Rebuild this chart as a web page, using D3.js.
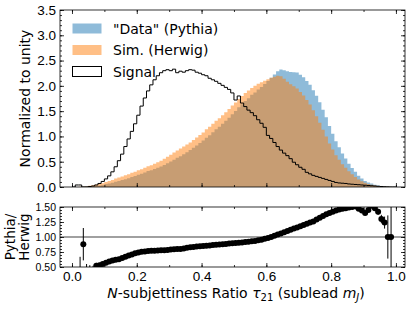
<!DOCTYPE html>
<html>
<head>
<meta charset="utf-8">
<script src="https://cdn.jsdelivr.net/npm/d3@7"></script>
<style>
  body { margin: 0; background: #fff; }
  svg { font-family: "DejaVu Sans", sans-serif; }
</style>
</head>
<body>
<div id="chart"></div>
<script>
// 100 bins of width 0.01 between 0 and 1
const binEdges = d3.range(101).map((i) => i / 100);

// "Data" (Pythia), normalized to unity
const pythia = [
  0, 0, 0.001, 0.005, 0.005, 0.011, 0.016, 0.025, 0.032, 0.041,
  0.057, 0.071, 0.085, 0.105, 0.12, 0.137, 0.154, 0.173, 0.199, 0.219,
  0.244, 0.264, 0.289, 0.314, 0.331, 0.354, 0.38, 0.406, 0.437, 0.471,
  0.506, 0.541, 0.576, 0.608, 0.648, 0.689, 0.73, 0.777, 0.823, 0.87,
  0.918, 0.975, 1.023, 1.081, 1.14, 1.19, 1.25, 1.31, 1.371, 1.441,
  1.503, 1.575, 1.638, 1.702, 1.757, 1.823, 1.87, 1.928, 1.977, 2.037,
  2.098, 2.16, 2.224, 2.288, 2.321, 2.311, 2.288, 2.274, 2.269, 2.262,
  2.218, 2.172, 2.098, 2.021, 1.915, 1.806, 1.676, 1.526, 1.38, 1.204,
  1.051, 0.907, 0.788, 0.662, 0.562, 0.462, 0.375, 0.302, 0.221, 0.166,
  0.119, 0.087, 0.068, 0.044, 0.028, 0.016, 0.007, 0.003, 0.001, 0,
];

// Sim. (Herwig)
const herwig = [
  0, 0, 0.003, 0.006, 0.012, 0.025, 0.035, 0.048, 0.06, 0.075,
  0.1, 0.12, 0.14, 0.17, 0.19, 0.21, 0.23, 0.25, 0.28, 0.3,
  0.33, 0.35, 0.38, 0.41, 0.43, 0.46, 0.49, 0.52, 0.56, 0.6,
  0.64, 0.68, 0.72, 0.76, 0.8, 0.84, 0.88, 0.93, 0.98, 1.03,
  1.08, 1.14, 1.19, 1.25, 1.31, 1.36, 1.42, 1.48, 1.54, 1.61,
  1.67, 1.74, 1.8, 1.86, 1.91, 1.96, 2.0, 2.04, 2.07, 2.1,
  2.13, 2.16, 2.18, 2.2, 2.19, 2.14, 2.08, 2.03, 1.99, 1.95,
  1.88, 1.81, 1.72, 1.63, 1.52, 1.4, 1.27, 1.13, 1.0, 0.86,
  0.74, 0.63, 0.54, 0.45, 0.38, 0.31, 0.25, 0.2, 0.15, 0.115,
  0.085, 0.06, 0.045, 0.03, 0.02, 0.012, 0.006, 0.003, 0.001, 0,
];

// Signal
const signal = [
  0, 0.04, 0.04, 0, 0, 0.01, 0.02, 0.04, 0.07, 0.11,
  0.16, 0.22, 0.3, 0.4, 0.52, 0.65, 0.8, 0.95, 1.1, 1.25,
  1.42, 1.6, 1.76, 1.9, 2.02, 2.12, 2.2, 2.26, 2.3, 2.32,
  2.3, 2.33, 2.26, 2.29, 2.27, 2.3, 2.32, 2.31, 2.27, 2.25,
  2.22, 2.2, 2.15, 2.12, 2.09, 2.05, 2.01, 1.97, 1.93, 1.86,
  1.72, 1.8, 1.66, 1.59, 1.52, 1.47, 1.41, 1.33, 1.26, 1.18,
  1.02, 0.96, 0.88, 0.8, 0.73, 0.67, 0.62, 0.56, 0.49, 0.44,
  0.39, 0.35, 0.29, 0.26, 0.23, 0.21, 0.19, 0.17, 0.15, 0.13,
  0.11, 0.09, 0.08, 0.075, 0.07, 0.06, 0.055, 0.05, 0.045, 0.04,
  0.035, 0.03, 0.025, 0.02, 0.015, 0.01, 0.005, 0.002, 0, 0,
];

// Pythia / Herwig ratio and its uncertainty (null = no point)
const ratio = [
  null, null, 0.3, 0.88, 0.4, 0.45, 0.45, 0.52, 0.53, 0.55,
  0.57, 0.59, 0.61, 0.62, 0.63, 0.65, 0.67, 0.69, 0.71, 0.73,
  0.74, 0.755, 0.76, 0.765, 0.77, 0.77, 0.775, 0.78, 0.78, 0.785,
  0.79, 0.795, 0.8, 0.8, 0.81, 0.82, 0.83, 0.835, 0.84, 0.845,
  0.85, 0.855, 0.86, 0.865, 0.87, 0.875, 0.88, 0.885, 0.89, 0.895,
  0.9, 0.905, 0.91, 0.915, 0.92, 0.93, 0.935, 0.945, 0.955, 0.97,
  0.985, 1.0, 1.02, 1.04, 1.06, 1.08, 1.1, 1.12, 1.14, 1.16,
  1.18, 1.2, 1.22, 1.24, 1.26, 1.29, 1.32, 1.35, 1.38, 1.4,
  1.42, 1.44, 1.46, 1.47, 1.48, 1.49, 1.5, 1.51, 1.47, 1.44,
  1.4, 1.45, 1.52, 1.48, 1.42, 1.3, 1.24, 1.0, 1.0, null,
];
const ratioErr = [
  0, 0, 0.37, 0.27, 0.15, 0.08, 0.07, 0.05, 0.04, 0.03,
  0.03, 0.02, 0.02, 0.02, 0.02, 0.01, 0.01, 0.01, 0.01, 0.01,
  0.01, 0.01, 0.01, 0.01, 0.01, 0.01, 0.01, 0.01, 0.01, 0.01,
  0.01, 0.01, 0.01, 0.01, 0.01, 0.01, 0.01, 0.01, 0.01, 0.01,
  0.01, 0.01, 0.01, 0.01, 0.01, 0.01, 0.01, 0.01, 0.01, 0.01,
  0.01, 0.01, 0.01, 0.01, 0.01, 0.01, 0.01, 0.01, 0.01, 0.01,
  0.01, 0.01, 0.01, 0.01, 0.01, 0.01, 0.01, 0.01, 0.01, 0.01,
  0.01, 0.01, 0.01, 0.01, 0.01, 0.01, 0.01, 0.01, 0.01, 0.01,
  0.01, 0.01, 0.01, 0.01, 0.01, 0.01, 0.02, 0.02, 0.02, 0.02,
  0.03, 0.03, 0.04, 0.04, 0.05, 0.07, 0.1, 0.36, 0.7, 0,
];

const xTicks = [0, 0.2, 0.4, 0.6, 0.8, 1.0];
const yTicksTop = [0, 0.5, 1.0, 1.5, 2.0, 2.5, 3.0, 3.5];
const yTicksRatio = [0.5, 0.75, 1.0, 1.25, 1.5];

const legendItems = [
  {label: '"Data" (Pythia)', fill: '#1f77b4', opacity: 0.5, stroke: 'none'},
  {label: 'Sim. (Herwig)', fill: '#ff7f0e', opacity: 0.5, stroke: 'none'},
  {label: 'Signal', fill: 'none', opacity: 1, stroke: '#000'},
];

const W = 415, H = 312;
const left = 60, right = 405;
const top1 = 10, bot1 = 187;
const top2 = 207, bot2 = 267;

const svg = d3.select('#chart').append('svg')
  .attr('width', W).attr('height', H);

const x = d3.scaleLinear().domain([-0.037, 1.028]).range([left, right]);
const y1 = d3.scaleLinear().domain([0, 3.5]).range([bot1, top1]);
const y2 = d3.scaleLinear().domain([0.5, 1.5]).range([bot2, top2]);

// clip paths for each panel
const defs = svg.append('defs');
defs.append('clipPath').attr('id', 'clipTop').append('rect')
  .attr('x', left).attr('y', top1).attr('width', right - left).attr('height', bot1 - top1);
defs.append('clipPath').attr('id', 'clipBot').append('rect')
  .attr('x', left).attr('y', top2).attr('width', right - left).attr('height', bot2 - top2);

const histPoints = (vals) => {
  const pts = vals.map((v, i) => ({x: binEdges[i], y: v}));
  pts.push({x: binEdges[vals.length], y: vals[vals.length - 1]});
  return pts;
};

const makeArea = (yScale) => d3.area()
  .curve(d3.curveStepAfter)
  .x((d) => x(d.x))
  .y0(yScale(0))
  .y1((d) => yScale(d.y));

const topG = svg.append('g').attr('clip-path', 'url(#clipTop)');

topG.append('path')
  .attr('d', makeArea(y1)(histPoints(pythia)))
  .attr('fill', '#1f77b4').attr('fill-opacity', 0.5);

topG.append('path')
  .attr('d', makeArea(y1)(histPoints(herwig)))
  .attr('fill', '#ff7f0e').attr('fill-opacity', 0.5);

// signal as a step outline
const sigPts = [{x: binEdges[0], y: 0}].concat(
  signal.map((v, i) => ({x: binEdges[i], y: v})),
  [{x: binEdges[100], y: 0}]
);
topG.append('path')
  .attr('d', d3.line().curve(d3.curveStepAfter).x((d) => x(d.x)).y((d) => y1(d.y))(sigPts))
  .attr('fill', 'none').attr('stroke', '#000').attr('stroke-width', 1);

// ratio panel
const botG = svg.append('g').attr('clip-path', 'url(#clipBot)');

botG.append('line')
  .attr('x1', left).attr('x2', right)
  .attr('y1', y2(1)).attr('y2', y2(1))
  .attr('stroke', '#808080').attr('stroke-width', 1.5);

const ratioData = ratio
  .map((r, i) => ({c: (binEdges[i] + binEdges[i + 1]) / 2, r, e: ratioErr[i]}))
  .filter((d) => d.r !== null);

botG.selectAll('line.err').data(ratioData).join('line')
  .attr('class', 'err')
  .attr('x1', (d) => x(d.c)).attr('x2', (d) => x(d.c))
  .attr('y1', (d) => y2(d.r - d.e)).attr('y2', (d) => y2(d.r + d.e))
  .attr('stroke', '#000').attr('stroke-width', 1);

botG.selectAll('circle').data(ratioData).join('circle')
  .attr('cx', (d) => x(d.c)).attr('cy', (d) => y2(d.r))
  .attr('r', 3).attr('fill', '#000');

// axes with inward ticks on all four sides
const addAxes = ({yScale, yTicks, yMinor, yFmt, yTop, yBot, xLabels, yFont}) => {
  const xMinor = d3.range(0, 1.0001, 0.1);
  const mk = (axis, scale, ticks, size, fmt) => axis(scale).tickValues(ticks).tickSize(size).tickPadding(4).tickFormat(fmt);

  const put = (gen, tx, ty) => {
    const g = svg.append('g').attr('transform', `translate(${tx},${ty})`).call(gen);
    g.select('.domain').remove();
    g.selectAll('line').attr('stroke', '#000').attr('stroke-width', 0.8);
    return g;
  };

  put(mk(d3.axisBottom, x, xMinor, -2, () => ''), 0, yBot);
  put(mk(d3.axisTop, x, xMinor, -2, () => ''), 0, yTop);
  put(mk(d3.axisLeft, yScale, yMinor, -2, () => ''), left, 0);
  put(mk(d3.axisRight, yScale, yMinor, -2, () => ''), right, 0);

  const xb = put(mk(d3.axisBottom, x, xTicks, -4, xLabels ? d3.format('.1f') : () => ''), 0, yBot);
  xb.selectAll('text').attr('font-size', 13.5).attr('fill', '#000');
  put(mk(d3.axisTop, x, xTicks, -4, () => ''), 0, yTop);
  const yl = put(mk(d3.axisLeft, yScale, yTicks, -4, yFmt), left, 0);
  yl.selectAll('text').attr('font-size', yFont).attr('fill', '#000');
  put(mk(d3.axisRight, yScale, yTicks, -4, () => ''), right, 0);

  svg.append('rect')
    .attr('x', left).attr('y', yTop)
    .attr('width', right - left).attr('height', yBot - yTop)
    .attr('fill', 'none').attr('stroke', '#000').attr('stroke-width', 0.8);
};

addAxes({
  yScale: y1, yTicks: yTicksTop, yMinor: d3.range(0, 3.5001, 0.1),
  yFmt: d3.format('.1f'), yTop: top1, yBot: bot1, xLabels: false, yFont: 13.5,
});
addAxes({
  yScale: y2, yTicks: yTicksRatio, yMinor: d3.range(0.5, 1.5001, 0.05),
  yFmt: d3.format('.2f'), yTop: top2, yBot: bot2, xLabels: true, yFont: 10.5,
});

// legend
const leg = svg.append('g').attr('transform', 'translate(72,23)');
legendItems.forEach((d, i) => {
  const row = leg.append('g').attr('transform', `translate(0,${i * 21.5})`);
  row.append('rect')
    .attr('x', 0.5).attr('y', 0.5).attr('width', 29).attr('height', 10)
    .attr('fill', d.fill).attr('fill-opacity', d.opacity)
    .attr('stroke', d.stroke).attr('stroke-width', 1);
  row.append('text')
    .attr('x', 41).attr('y', 5.5).attr('dy', '0.36em')
    .attr('font-size', 14).text(d.label);
});

// axis titles
svg.append('text')
  .attr('transform', `translate(25,${(top1 + bot1) / 2}) rotate(-90)`)
  .attr('text-anchor', 'middle').attr('dy', '0.36em')
  .attr('font-size', 14).text('Normalized to unity');

const rl = svg.append('text')
  .attr('transform', `translate(17,${(top2 + bot2) / 2}) rotate(-90)`)
  .attr('text-anchor', 'middle').attr('font-size', 13.5);
rl.append('tspan').attr('x', 0).attr('y', -2).text('Pythia/');
rl.append('tspan').attr('x', 0).attr('y', 12).text('Herwig');

const xt = svg.append('text')
  .attr('x', 236).attr('y', 298)
  .attr('text-anchor', 'middle').attr('font-size', 14);
xt.append('tspan').attr('font-style', 'italic').text('N');
xt.append('tspan').text('-subjettiness Ratio ');
xt.append('tspan').attr('font-style', 'italic').text('τ');
xt.append('tspan').attr('font-size', 10).attr('dy', 3).text('21');
xt.append('tspan').attr('dy', -3).text(' (sublead ');
xt.append('tspan').attr('font-style', 'italic').text('m');
xt.append('tspan').attr('font-style', 'italic').attr('font-size', 10).attr('dy', 3).text('J');
xt.append('tspan').attr('dy', -3).text(')');
</script>
</body>
</html>
